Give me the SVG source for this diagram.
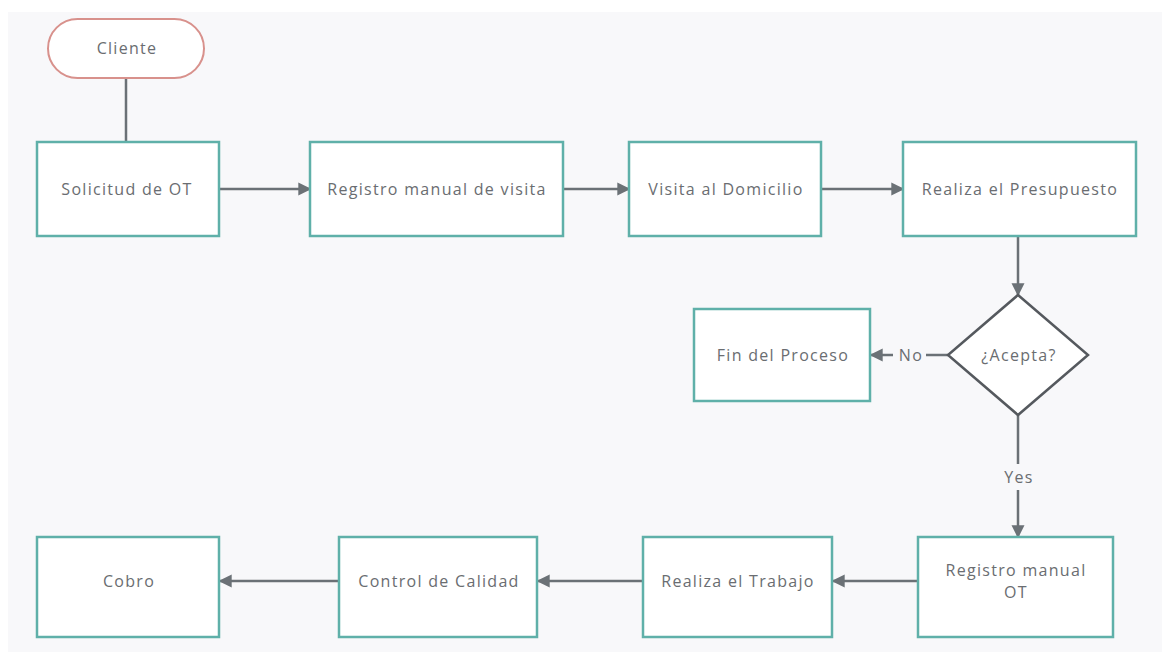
<svg xmlns="http://www.w3.org/2000/svg" width="1169" height="657" viewBox="0 0 1169 657">
<defs>
<marker id="ah" viewBox="0 0 10 10" refX="9" refY="5" markerWidth="13" markerHeight="15" markerUnits="userSpaceOnUse" orient="auto">
<path d="M0,0 L10,5 L0,10 z" fill="#6b7176"/>
</marker>
<style>
.box{fill:#ffffff;stroke:#5fb0a9;stroke-width:2.5}
.pill{fill:#ffffff;stroke:#d8918c;stroke-width:2}
.dia{fill:#ffffff;stroke:#55595e;stroke-width:2.5}
.lbl{font-family:"Open Sans","Liberation Sans",sans-serif;font-size:16px;letter-spacing:1.3px;fill:#6a6d71;text-anchor:middle;dominant-baseline:central}
.con{stroke:#6b7176;stroke-width:2.5;fill:none}
.arr{marker-end:url(#ah)}
</style>
</defs>
<rect x="0" y="0" width="1169" height="657" fill="#ffffff"/>
<rect x="8" y="12" width="1154" height="640" fill="#f8f8fa"/>
<g id="connectors">
<line class="con" x1="126" y1="78" x2="126" y2="142"/>
<line class="con arr" x1="219" y1="189" x2="310" y2="189"/>
<line class="con arr" x1="563" y1="189" x2="629" y2="189"/>
<line class="con arr" x1="821" y1="189" x2="903" y2="189"/>
<line class="con arr" x1="1018" y1="236" x2="1018" y2="295"/>
<line class="con" x1="948" y1="355" x2="926" y2="355"/>
<line class="con arr" x1="893" y1="355" x2="871" y2="355"/>
<text class="lbl" x="911" y="355">No</text>
<line class="con" x1="1018" y1="415" x2="1018" y2="464"/>
<line class="con arr" x1="1018" y1="490" x2="1018" y2="537"/>
<text class="lbl" x="1019" y="477">Yes</text>
<line class="con arr" x1="918" y1="581" x2="833" y2="581"/>
<line class="con arr" x1="643" y1="581" x2="538" y2="581"/>
<line class="con arr" x1="339" y1="581" x2="220" y2="581"/>
</g>
<g id="cliente">
<rect class="pill" x="48" y="19" width="156" height="59" rx="29.5" ry="29.5"/>
<text class="lbl" x="127" y="48">Cliente</text>
</g>
<g id="solicitud">
<rect class="box" x="37" y="142" width="182" height="94"/>
<text class="lbl" x="127" y="189">Solicitud de OT</text>
</g>
<g id="registro-visita">
<rect class="box" x="310" y="142" width="253" height="94"/>
<text class="lbl" x="437" y="189">Registro manual de visita</text>
</g>
<g id="visita">
<rect class="box" x="629" y="142" width="192" height="94"/>
<text class="lbl" x="726" y="189">Visita al Domicilio</text>
</g>
<g id="presupuesto">
<rect class="box" x="903" y="142" width="233" height="94"/>
<text class="lbl" x="1020" y="189">Realiza el Presupuesto</text>
</g>
<g id="acepta">
<polygon class="dia" points="1018,295 1088,355 1018,415 948,355"/>
<text class="lbl" x="1019" y="355">¿Acepta?</text>
</g>
<g id="fin">
<rect class="box" x="694" y="309" width="176" height="92"/>
<text class="lbl" x="783" y="355">Fin del Proceso</text>
</g>
<g id="registro-ot">
<rect class="box" x="918" y="537" width="195" height="100"/>
<text class="lbl" x="1016" y="570">Registro manual</text>
<text class="lbl" x="1016" y="592">OT</text>
</g>
<g id="trabajo">
<rect class="box" x="643" y="537" width="189" height="100"/>
<text class="lbl" x="738" y="581">Realiza el Trabajo</text>
</g>
<g id="calidad">
<rect class="box" x="339" y="537" width="198" height="100"/>
<text class="lbl" x="439" y="581">Control de Calidad</text>
</g>
<g id="cobro">
<rect class="box" x="37" y="537" width="182" height="100"/>
<text class="lbl" x="129" y="581">Cobro</text>
</g>
</svg>
